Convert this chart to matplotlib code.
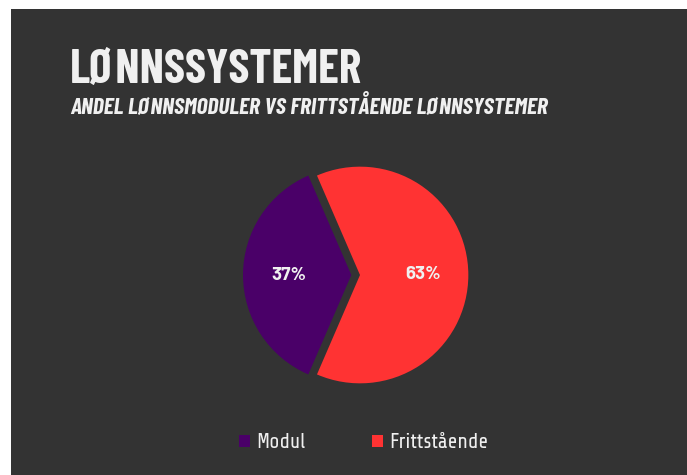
import matplotlib
matplotlib.use("Agg")
import matplotlib.pyplot as plt
from matplotlib.patches import Rectangle, Patch

# data
labels = ["Modul", "Frittstående"]
shares = [37, 63]
colors = ["#4a0068", "#ff3333"]

title = "LØNNSSYSTEMER"
subtitle = "ANDEL LØNNSMODULER VS FRITTSTÅENDE LØNNSYSTEMER"

bg = "#333333"
txt = "#f0f0f0"
W, H = 687, 475

fig = plt.figure(figsize=(W / 100, H / 100), dpi=100)
fig.patch.set_facecolor("white")
fig.add_artist(Rectangle((11 / W, 0), 1 - 11 / W, (H - 9) / H,
                         transform=fig.transFigure, facecolor=bg,
                         edgecolor="none", zorder=-10))

fig.text(70 / W, 1 - 83 / H, title, color=txt, fontsize=34,
         fontweight="bold", family=["Barlow Condensed", "DejaVu Sans"],
         ha="left", va="baseline")
fig.text(70 / W, 1 - 113 / H, subtitle, color=txt, fontsize=17,
         fontweight="bold", style="italic",
         family=["Barlow Condensed", "DejaVu Sans"],
         ha="left", va="baseline")

# pie axes: center (360, 275) px, radius ~108 px
size = 260
ax = fig.add_axes([(360 - size / 2) / W, (H - 275 - size / 2) / H,
                   size / W, size / H])
ax.set_facecolor("none")
wedges, texts, autotexts = ax.pie(
    shares, colors=colors, explode=[0.08, 0], startangle=113.4,
    counterclock=True, autopct="%d%%", pctdistance=0.58,
    textprops=dict(color=txt, fontsize=13.5, fontweight="bold",
                   family=["Barlow", "DejaVu Sans"]))
ax.set_xlim(-1.2, 1.2)
ax.set_ylim(-1.2, 1.2)
ax.set_aspect("equal")
ax.axis("off")

handles = [Patch(facecolor=c, edgecolor="none", label=l)
           for c, l in zip(colors, labels)]
leg = fig.legend(handles=handles, loc="center",
                 bbox_to_anchor=(364 / W, 1 - 443 / H), ncol=2,
                 frameon=False, handlelength=0.53,
                 handleheight=0.53, handletextpad=0.3, columnspacing=3.2,
                 labelcolor=txt, borderpad=0,
                 prop=dict(family=["Share Tech", "DejaVu Sans"], size=15))

fig.savefig("out.png", dpi=100, facecolor=fig.get_facecolor())
